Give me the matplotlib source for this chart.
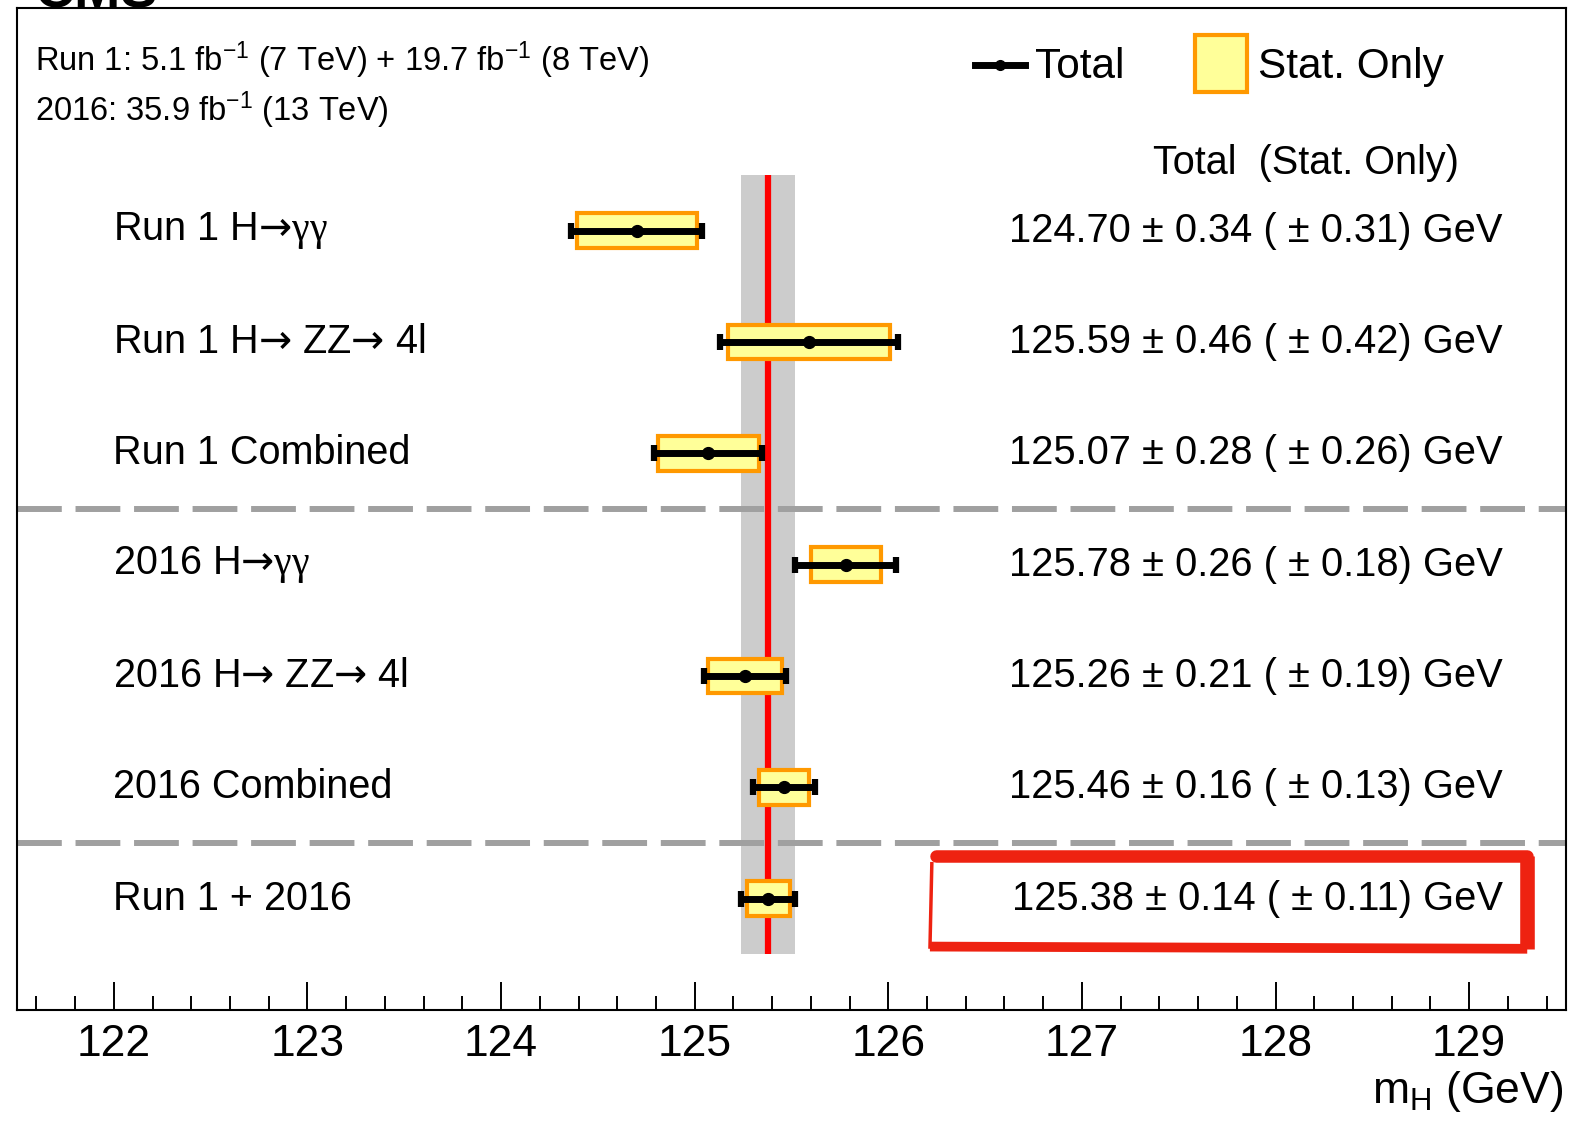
import matplotlib
matplotlib.use('Agg')
import matplotlib.pyplot as plt
import numpy as np
from matplotlib.patches import Rectangle
from matplotlib.lines import Line2D
from matplotlib.ticker import MultipleLocator

plt.rcParams['font.family'] = ['Liberation Sans', 'DejaVu Sans']
plt.rcParams['mathtext.fontset'] = 'custom'
plt.rcParams['mathtext.rm'] = 'Liberation Sans'
plt.rcParams['mathtext.it'] = 'Liberation Sans:italic'
plt.rcParams['mathtext.sf'] = 'DejaVu Sans'
plt.rcParams['mathtext.cal'] = 'Liberation Serif'

# measurements, top to bottom
arr = '$\\mathsf{\u2192}$'
gg = '$\\mathcal{\u03b3\u03b3}$'
labels = ['Run 1 H' + arr + gg, 'Run 1 H' + arr + ' ZZ' + arr + ' 4l', 'Run 1 Combined',
          '2016 H' + arr + gg, '2016 H' + arr + ' ZZ' + arr + ' 4l', '2016 Combined',
          'Run 1 + 2016']
mass = [124.70, 125.59, 125.07, 125.78, 125.26, 125.46, 125.38]
err_tot = [0.34, 0.46, 0.28, 0.26, 0.21, 0.16, 0.14]
err_stat = [0.31, 0.42, 0.26, 0.18, 0.19, 0.13, 0.11]

n = len(mass)
ypos = np.arange(n, 0, -1)  # 7 ... 1

fig = plt.figure(figsize=(15.77, 11.23), dpi=100)
ax = fig.add_axes([0.0108, 0.1006, 0.9822, 0.8923])
ax.set_xlim(121.5, 129.5)
ax.set_ylim(0, 9)

# combined band and central line
best = mass[-1]
ax.axvspan(best - err_tot[-1], best + err_tot[-1], ymin=0.5 / 9, ymax=7.5 / 9,
           color='#cccccc', zorder=1, lw=0)
ax.plot([best, best], [0.5, 7.5], color='#ff0000', lw=4.5, zorder=2,
        solid_capstyle='butt')

# separators
for ysep in [4.5, 1.5]:
    ln = ax.axhline(ysep, color='#a0a0a0', lw=4.3, zorder=1)
    ln.set_dashes((7.5, 2.3))

bh = 0.155
for i in range(n):
    ax.add_patch(Rectangle((mass[i] - err_stat[i], ypos[i] - bh), 2 * err_stat[i], 2 * bh,
                           facecolor='#ffff99', edgecolor='#ff9900', lw=3, zorder=3))
ax.errorbar(mass, ypos, xerr=err_tot, fmt='o', color='black', ms=8.5, elinewidth=5,
            capsize=5.5, capthick=4.5, zorder=4)

for i in range(n):
    ax.text(0.062, ypos[i] / 9, labels[i], transform=ax.transAxes, fontsize=28.5,
            va='center', ha='left')
    ax.text(0.9593, ypos[i] / 9,
            '%.2f \u00b1 %.2f ( \u00b1 %.2f) GeV' % (mass[i], err_tot[i], err_stat[i]),
            transform=ax.transAxes, fontsize=28.7, va='center', ha='right')

ax.text(0.7334, 0.845, 'Total  (Stat. Only)', transform=ax.transAxes, fontsize=28.5,
        va='center', ha='left')

# legend
ax.add_line(Line2D([0.6185, 0.6507], [0.943, 0.943], transform=ax.transAxes, color='black',
                   lw=5))
ax.plot([0.6346], [0.943], 'o', color='black', ms=7, transform=ax.transAxes)
ax.text(0.6569, 0.941, 'Total', transform=ax.transAxes, fontsize=30.5, va='center')
ax.add_patch(Rectangle((0.7605, 0.916), 0.0335, 0.057, transform=ax.transAxes,
                       facecolor='#ffff99', edgecolor='#ff9900', lw=3))
ax.text(0.801, 0.941, 'Stat. Only', transform=ax.transAxes, fontsize=30.5, va='center')

# lumi text
ax.text(0.0116, 0.948, 'Run 1: 5.1 fb$^{-1}$ (7 TeV) + 19.7 fb$^{-1}$ (8 TeV)',
        transform=ax.transAxes, fontsize=23.5, va='center')
ax.text(0.0116, 0.898, '2016: 35.9 fb$^{-1}$ (13 TeV)',
        transform=ax.transAxes, fontsize=23.5, va='center')

# hand drawn highlight around combined value
red = '#ee2211'
x0, x1 = 126.215, 129.30
y0, y1 = ypos[-1] - 0.45, ypos[-1] + 0.38
ax.plot([x0 + 0.03, x1], [y1, y1], color=red, lw=9, solid_capstyle='round', clip_on=False)
ax.plot([x1, x1], [y1, y0], color=red, lw=10.5, solid_capstyle='butt', clip_on=False)
ax.plot([x0, x1], [y0 + 0.02, y0], color=red, lw=7, solid_capstyle='butt', clip_on=False)
ax.plot([x0 + 0.01, x0], [y1 - 0.05, y0], color=red, lw=2.5, solid_capstyle='butt',
        clip_on=False)

# axes styling
ax.xaxis.set_major_locator(MultipleLocator(1))
ax.xaxis.set_minor_locator(MultipleLocator(0.2))
ax.tick_params(axis='x', which='major', direction='in', length=20, width=1.4,
               labelsize=32, pad=10, top=False)
ax.tick_params(axis='x', which='minor', direction='in', length=10, width=1.4, top=False)
ax.set_yticks([])
for s in ax.spines.values():
    s.set_linewidth(1.5)

fig.text(0.9915, 0.008, 'm$_{\\mathrm{H}}$ (GeV)', fontsize=32, ha='right', va='bottom')
fig.text(0.022, 0.9935, 'CMS', fontsize=40, weight='bold', va='baseline')

fig.savefig('out.png', dpi=100)
